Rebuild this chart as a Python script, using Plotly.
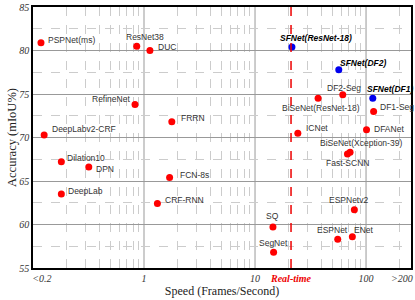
import numpy as np
import plotly.graph_objects as go

# ---- data ----
red_names = ["PSPNet(ms)", "ResNet38", "DUC", "RefineNet", "FRRN", "DeepLabv2-CRF",
             "DF2-Seg", "BiSeNet(ResNet-18)", "DF1-Seg", "ICNet", "DFANet",
             "BiSeNet(Xception-39)", "Fast-SCNN", "ESPNetv2", "SQ", "ESPNet", "ENet", "SegNet",
             "Dilation10", "DPN", "DeepLab", "FCN-8s", "CRF-RNN"]
red_speed = [0.118, 0.86, 1.13, 0.83, 1.78, 0.126,
             61.7, 37.0, 117.0, 24.3, 101.0,
             71.8, 68.0, 78.5, 14.5, 55.6, 75.3, 14.7,
             0.18, 0.318, 0.18, 1.7, 1.32]
red_acc = [80.9, 80.5, 80.0, 73.8, 71.8, 70.3,
           74.9, 74.5, 73.0, 70.5, 70.9,
           68.3, 68.1, 61.7, 59.7, 58.3, 58.6, 56.8,
           67.2, 66.6, 63.5, 65.4, 62.4]

blue_names = ["SFNet(ResNet-18)", "SFNet(DF2)", "SFNet(DF1)"]
blue_speed = [21.5, 56.8, 115.0]
blue_acc = [80.4, 77.8, 74.5]

realtime_fps = 21.1
x_tickvals = [0.12, 1, 10, 100, 210]
x_ticktext = ["<0.2", "1", "10", "100", ">200"]
y_tickvals = [55, 60, 65, 70, 75, 80, 85]

# label placement (xanchor, xshift, yshift)
red_pos = [("left", 5, 3), ("center", 8, 9), ("left", 6, 4), ("right", -3, 5), ("left", 7, 4),
           ("left", 6, 6), ("center", 1, 7), ("center", 3, -10), ("left", 4, 4), ("left", 6, 5),
           ("left", 5, 1), ("center", 11, 9), ("center", 0, -9), ("center", -6, 10), ("center", 0, 11),
           ("center", -5, 9), ("center", 12, 7), ("center", 0, 9), ("left", 4, 4), ("left", 5, -2),
           ("left", 5, 3), ("left", 8, 3), ("left", 6, 4)]
blue_pos = [("left", -14, 9), ("left", -1, 7), ("left", -8, 9)]

fig = go.Figure()
fig.add_trace(go.Scatter(x=red_speed, y=red_acc, mode="markers",
                         marker=dict(color="#ff0000", size=7), showlegend=False))
fig.add_trace(go.Scatter(x=blue_speed, y=blue_acc, mode="markers",
                         marker=dict(color="#0000ee", size=7), showlegend=False))

label_font = dict(family="Liberation Sans, Arial", size=8.5, color="#333333")
for n, sx, sy, (xa, dx, dy) in zip(red_names, red_speed, red_acc, red_pos):
    fig.add_annotation(x=np.log10(sx), y=sy, xref="x", yref="y", text=n, showarrow=False,
                       xanchor=xa, xshift=dx, yshift=dy, font=label_font)
for n, sx, sy, (xa, dx, dy) in zip(blue_names, blue_speed, blue_acc, blue_pos):
    fig.add_annotation(x=np.log10(sx), y=sy, xref="x", yref="y", text="<b><i>" + n + "</i></b>",
                       showarrow=False, xanchor=xa, xshift=dx, yshift=dy,
                       font=dict(family="Liberation Sans, Arial", size=8.5, color="#000000"))

# solid major vertical gridlines
for v in [1, 10, 100]:
    fig.add_shape(type="line", xref="x", yref="paper", x0=v, x1=v, y0=0, y1=1,
                  line=dict(color="#999999", width=1), layer="below")

# real-time line
fig.add_shape(type="line", xref="x", yref="paper", x0=realtime_fps, x1=realtime_fps, y0=0, y1=1,
              line=dict(color="#ee0000", width=1.5, dash="dash"))
fig.add_annotation(x=np.log10(realtime_fps), y=0, xref="x", yref="paper", yanchor="top", yshift=-3,
                   text="<b><i>Real-time</i></b>", showarrow=False,
                   font=dict(family="Liberation Serif", size=10, color="#ee0000"))

minor_x = [m * d for d in [0.1, 1, 10] for m in range(2, 10)] + [200]
fig.update_xaxes(type="log", range=[-1, 2.405], tickmode="array", tickvals=x_tickvals,
                 ticktext=x_ticktext, showgrid=False, zeroline=False, automargin=False,
                 tickfont=dict(family="Liberation Serif", size=10, color="#333333", style="italic"),
                 showline=True, linecolor="#000000", linewidth=1.5, mirror=True, ticks="",
                 minor=dict(tickmode="array", tickvals=minor_x, showgrid=True, griddash="dash",
                            gridcolor="#cccccc", gridwidth=1, ticks=""),
                 title=dict(text="Speed (Frames/Second)", standoff=0,
                            font=dict(family="Liberation Serif", size=12, color="#222222")))
fig.update_yaxes(range=[55, 85], tickmode="array", tickvals=y_tickvals,
                 showgrid=True, gridcolor="#999999", gridwidth=1, zeroline=False, automargin=False,
                 tickfont=dict(family="Liberation Serif", size=10, color="#333333", style="italic"),
                 showline=True, linecolor="#000000", linewidth=1.5, mirror=True, ticks="",
                 minor=dict(dtick=2.5, tick0=55, showgrid=True, griddash="dash",
                            gridcolor="#cccccc", gridwidth=1, ticks=""),
                 title=dict(text="Accuracy (mIoU%)", standoff=0,
                            font=dict(family="Liberation Serif", size=12.5, color="#222222")))

fig.update_layout(width=415, height=300, margin=dict(l=33, r=4, t=7, b=32),
                  plot_bgcolor="white", paper_bgcolor="white")
fig.write_html("out.html", config={"displayModeBar": False},
               post_script="document.body.style.margin='0px';")
